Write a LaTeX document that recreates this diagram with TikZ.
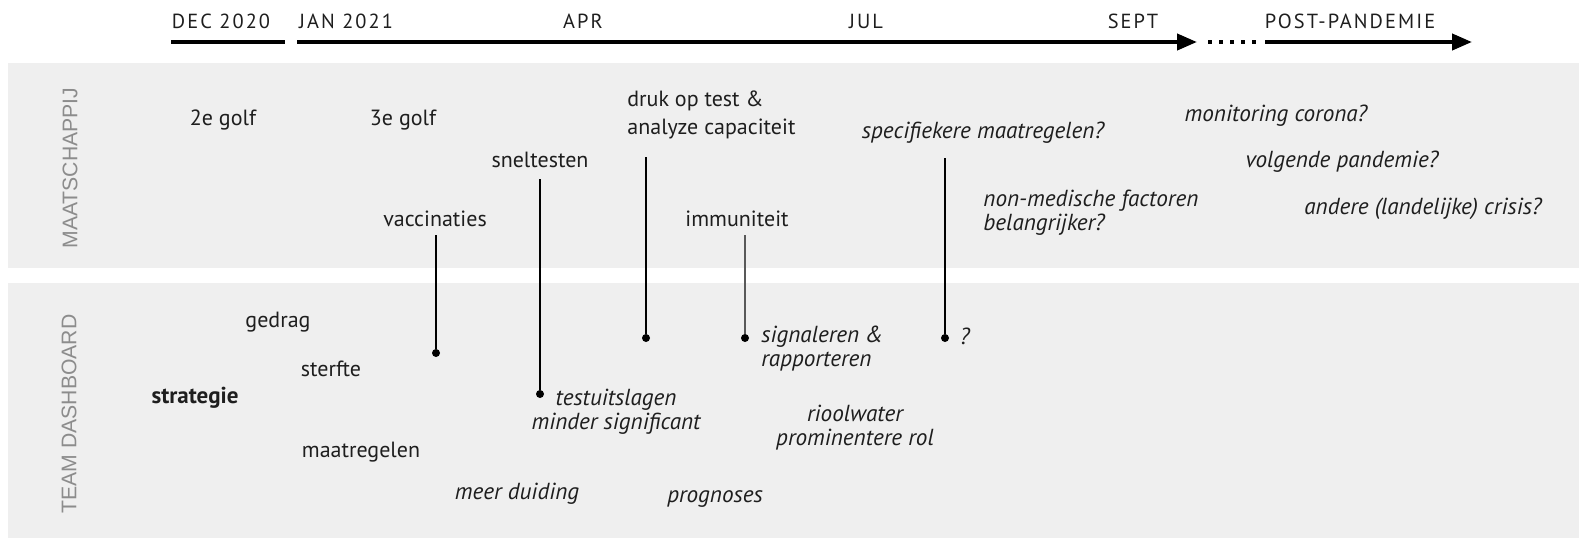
\documentclass[tikz,border=0pt]{standalone}
\usepackage{fontspec}
\usepackage{xcolor}
\usepackage{tikz}
\setmainfont{PT Sans}
\newfontfamily\sidefont{Liberation Sans}
\usetikzlibrary{arrows.meta,calc,positioning}
\definecolor{bandgray}{HTML}{EFEFEF}
\definecolor{sidegray}{HTML}{8C8C8C}
\definecolor{ink}{HTML}{1E1E1E}

\begin{document}
\begin{tikzpicture}[
    x=0.5pt, y=-0.5pt,
    nodes={inner sep=2pt, text=ink, font=\fontsize{11}{12}\selectfont},
    band/.style={fill=bandgray, draw=none},
    side/.style={rotate=90, text=sidegray, font=\sidefont\fontsize{10.6}{12}\selectfont},
    month/.style={font=\addfontfeature{LetterSpace=10}\fontsize{10.2}{12}\selectfont},
    tl/.style={draw=black, line width=2pt},
    tlarrow/.style={tl, -{Triangle[length=10pt, width=8pt]}},
    lbl/.style={align=center},
    itl/.style={align=center, font=\itshape\fontsize{11.6}{12}\selectfont},
    dot/.style={circle, fill=black, inner sep=0, minimum size=4pt},
    link/.style={draw=black, line width=0.7pt}]
\useasboundingbox (0,0) rectangle (1579,542);

\path[band] (8,63) rectangle (1579,268);
\path[band] (8,283) rectangle (1579,538);
\node[side] (maat) at (70,168) {MAATSCHAPPIJ};
\node[side] (team) at (69,414) {TEAM DASHBOARD};

\node[month] (dec) at (221,21) {DEC 2020};
\node[month] (jan) at (346,21) {JAN 2021};
\node[month] (apr) at (583,21) {APR};
\node[month] (jul) at (866,21) {JUL};
\node[month] (sept) at (1133,21) {SEPT};
\node[month] (post) at (1350,21) {POST-PANDEMIE};
\coordinate (t0) at (171,42);
\coordinate (t1) at (285,42);
\coordinate (t2) at (297,42);
\coordinate (t3) at (1197,42);
\coordinate (t4) at (1208,42);
\coordinate (t5) at (1256,42);
\coordinate (t6) at (1265,42);
\coordinate (t7) at (1472,42);
\path[tl] (t0) -- (t1);
\path[tlarrow] (t2) -- (t3);
\path[draw=black, line width=2pt, dash pattern=on 2pt off 3.5pt] (t4) -- (t5);
\path[tlarrow] (t6) -- (t7);

\node[lbl] (golf2) at (223,120) {2e golf};
\node[lbl] (golf3) at (403,120) {3e golf};
\node[align=left, anchor=west, font=\fontsize{11}{14}\selectfont] (druk) at (623,115) {druk op test \&\\analyze capaciteit};
\node[lbl] (snel) at (540,160) {sneltesten};
\node[lbl] (vacc) at (435,219) {vaccinaties};
\node[lbl] (immu) at (737,219) {immuniteit};
\node[itl] (spec) at (983,133) {specifiekere maatregelen?};
\node[itl] (mon) at (1276,116) {monitoring corona?};
\node[itl] (volg) at (1342,162) {volgende pandemie?};
\node[itl, align=left, anchor=west] (nonmed) at (979,213) {non-medische factoren\\belangrijker?};
\node[itl] (andere) at (1423,209) {andere (landelijke) crisis?};

\node[lbl] (gedrag) at (278,322) {gedrag};
\node[lbl] (sterfte) at (331,369) {sterfte};
\node[lbl, font=\bfseries\fontsize{11.5}{12}\selectfont] (strat) at (195,398) {strategie};
\node[lbl] (maatr) at (361,452) {maatregelen};
\node[itl] (duiding) at (517,494) {meer duiding};
\node[itl] (progn) at (715,499) {prognoses};
\node[itl] (test) at (616,412) {testuitslagen\\minder significant};
\node[itl, align=left, anchor=west] (sign) at (757,349) {signaleren \&\\rapporteren};
\node[itl] (riool) at (855,428) {rioolwater\\prominentere rol};
\node[itl] (quest) at (965,336) {?};

\node[dot] (vaccdot) at (436,353) {};
\node[dot] (sneldot) at (540,394) {};
\node[dot] (drukdot) at (646,338) {};
\node[dot] (immudot) at (745,338) {};
\node[dot] (specdot) at (945,338) {};
\path[link, shorten <=2pt] (vaccdot |- vacc.south) -- (vaccdot);
\path[link, shorten <=3.5pt] (sneldot |- snel.south) -- (sneldot);
\path[link, shorten <=7pt] (drukdot |- druk.south) -- (drukdot);
\path[link, draw=black!65, shorten <=2pt] (immudot |- immu.south) -- (immudot);
\path[link, shorten <=5pt] (specdot |- spec.south) -- (specdot);

\end{tikzpicture}
\end{document}
